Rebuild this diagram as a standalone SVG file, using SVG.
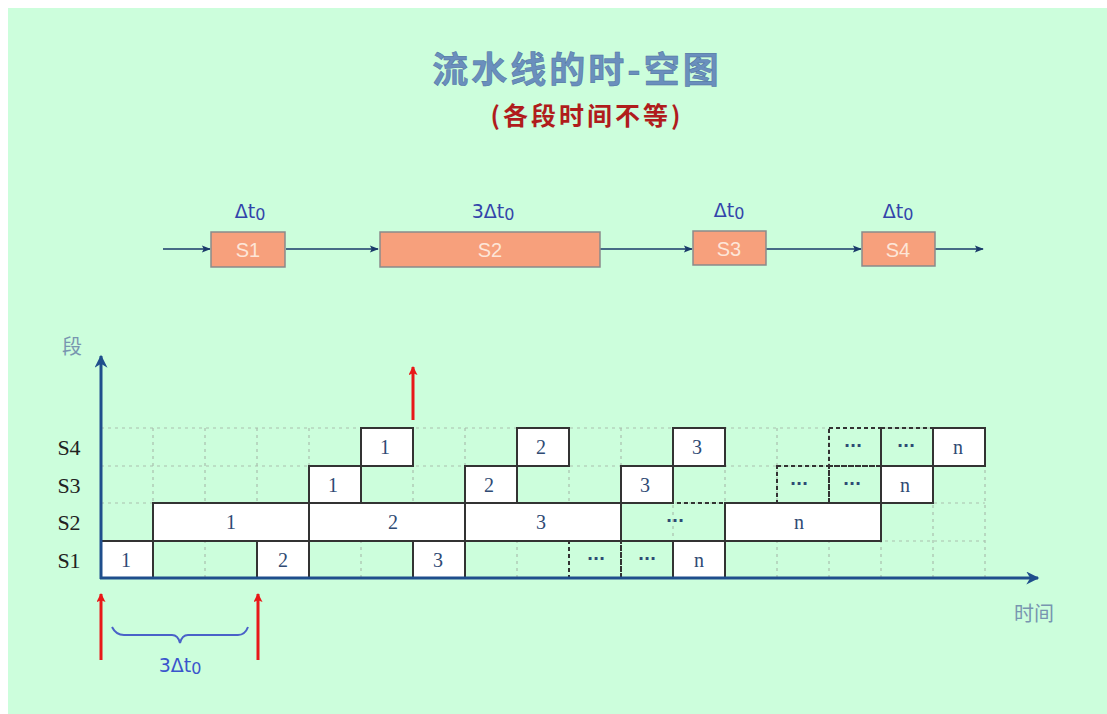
<svg xmlns="http://www.w3.org/2000/svg" width="1107" height="714" viewBox="0 0 1107 714">
<defs>
<marker id="nav" viewBox="0 0 10 10" refX="9" refY="5" markerWidth="13" markerHeight="9" markerUnits="userSpaceOnUse" orient="auto"><path d="M0,1 L10,5 L0,9 L2,5 z" fill="#1a3a6a"/></marker>
<marker id="axh" viewBox="0 0 10 10" refX="9" refY="5" markerWidth="22" markerHeight="13" markerUnits="userSpaceOnUse" orient="auto"><path d="M0,0 L10,5 L0,10 L3,5 z" fill="#1f4e8c"/></marker>
<marker id="red" viewBox="0 0 10 10" refX="9" refY="5" markerWidth="14" markerHeight="9" markerUnits="userSpaceOnUse" orient="auto"><path d="M0,0 L10,5 L0,10 L2,5 z" fill="#e81818"/></marker>
<style>
.stg{fill:#f7a07c;stroke:#8a8a8a;stroke-width:1.5}
.stt{font-family:"Liberation Sans",Arial,sans-serif;font-size:20px;fill:#fde6d8;text-anchor:middle}
.dt{font-family:"DejaVu Sans","Liberation Sans",sans-serif;font-size:19px;fill:#3344aa;text-anchor:middle}
.pl{stroke:#1a3a6a;stroke-width:1.6;fill:none}
.grid{stroke:#a9bfae;stroke-width:1.2;stroke-dasharray:3,4;fill:none}
.box{fill:#ffffff;stroke:#333;stroke-width:2}
.dbox{fill:none;stroke:#333;stroke-width:2;stroke-dasharray:4,3}
.num{font-family:"Liberation Serif","Times New Roman",serif;font-size:20px;fill:#2f4a74;text-anchor:middle}
.dots{font-family:"DejaVu Sans",sans-serif;font-size:16px;font-weight:bold;fill:#2f4a74;text-anchor:middle}
.rl{font-family:"Liberation Serif","Times New Roman",serif;font-size:22px;fill:#222;text-anchor:middle}
.ax{font-family:"Noto Sans CJK SC",sans-serif;font-size:20px;fill:#7895b0}
.ra{stroke:#e81818;stroke-width:3;fill:none}
</style>
</defs>
<rect x="8" y="8" width="1099" height="706" fill="#ccfedc"/>

<g id="title">
<text x="577" y="83" font-family="'Noto Sans CJK SC',sans-serif" font-size="36" font-weight="bold" fill="#6a8fbd" text-anchor="middle" letter-spacing="3" stroke="#4a6f9e" stroke-width="0.5">流水线的时-空图</text>
<text x="587" y="125" font-family="'Noto Sans CJK SC',sans-serif" font-size="25" font-weight="bold" fill="#b01c1c" text-anchor="middle" letter-spacing="3">(各段时间不等)</text>
</g>

<g id="pipeline-connectors">
<line class="pl" x1="163" y1="249" x2="210" y2="249" marker-end="url(#nav)"/>
<line class="pl" x1="286" y1="249" x2="378" y2="249" marker-end="url(#nav)"/>
<line class="pl" x1="600" y1="249" x2="692" y2="249" marker-end="url(#nav)"/>
<line class="pl" x1="766" y1="249" x2="861" y2="249" marker-end="url(#nav)"/>
<line class="pl" x1="935" y1="249" x2="983" y2="249" marker-end="url(#nav)"/>
</g>

<g id="stage-S1"><rect class="stg" x="211" y="232" width="74" height="35"/><text class="stt" x="248" y="257">S1</text><text class="dt" x="250" y="218">Δt<tspan font-size="16" dy="2">0</tspan></text></g>
<g id="stage-S2"><rect class="stg" x="380" y="232" width="220" height="35"/><text class="stt" x="490" y="257">S2</text><text class="dt" x="493" y="218">3Δt<tspan font-size="16" dy="2">0</tspan></text></g>
<g id="stage-S3"><rect class="stg" x="693" y="231" width="73" height="34"/><text class="stt" x="729" y="256">S3</text><text class="dt" x="729" y="217">Δt<tspan font-size="16" dy="2">0</tspan></text></g>
<g id="stage-S4"><rect class="stg" x="862" y="232" width="73" height="34"/><text class="stt" x="898" y="257">S4</text><text class="dt" x="898" y="218">Δt<tspan font-size="16" dy="2">0</tspan></text></g>

<g id="grid">
<path class="grid" d="M101,428 H985 M101,466 H985 M101,503 H985 M101,541 H985"/>
<path class="grid" d="M153,428 V578 M205,428 V578 M257,428 V578 M309,428 V578 M361,428 V578 M413,428 V578 M465,428 V578 M517,428 V578 M569,428 V578 M621,428 V578 M673,428 V578 M725,428 V578 M777,428 V578 M829,428 V578 M881,428 V578 M933,428 V578 M985,428 V578"/>
</g>

<g id="row-S2">
<rect class="box" x="153" y="503" width="156" height="38"/><text class="num" x="231" y="529">1</text>
<rect class="box" x="309" y="503" width="156" height="38"/><text class="num" x="393" y="529">2</text>
<rect class="box" x="465" y="503" width="156" height="38"/><text class="num" x="541" y="529">3</text>
<rect class="dbox" x="621" y="503" width="104" height="38"/><text class="dots" x="675" y="526">···</text>
<rect class="box" x="725" y="503" width="156" height="38"/><text class="num" x="799" y="529">n</text>
</g>
<g id="row-S1">
<rect class="box" x="101" y="541" width="52" height="37"/><text class="num" x="126" y="567">1</text>
<rect class="box" x="257" y="541" width="52" height="37"/><text class="num" x="283" y="567">2</text>
<rect class="box" x="413" y="541" width="52" height="37"/><text class="num" x="438" y="567">3</text>
<rect class="dbox" x="569" y="541" width="52" height="37"/><text class="dots" x="596" y="564">···</text>
<rect class="dbox" x="621" y="541" width="52" height="37"/><text class="dots" x="647" y="564">···</text>
<rect class="box" x="673" y="541" width="52" height="37"/><text class="num" x="699" y="567">n</text>
</g>
<g id="row-S3">
<rect class="box" x="309" y="466" width="52" height="37"/><text class="num" x="333" y="492">1</text>
<rect class="box" x="465" y="466" width="52" height="37"/><text class="num" x="489" y="492">2</text>
<rect class="box" x="621" y="466" width="52" height="37"/><text class="num" x="645" y="492">3</text>
<rect class="dbox" x="777" y="466" width="52" height="37"/><text class="dots" x="799" y="489">···</text>
<rect class="dbox" x="829" y="466" width="52" height="37"/><text class="dots" x="852" y="489">···</text>
<rect class="box" x="881" y="466" width="52" height="37"/><text class="num" x="905" y="492">n</text>
</g>
<g id="row-S4">
<rect class="box" x="361" y="428" width="52" height="38"/><text class="num" x="385" y="454">1</text>
<rect class="box" x="517" y="428" width="52" height="38"/><text class="num" x="541" y="454">2</text>
<rect class="box" x="673" y="428" width="52" height="38"/><text class="num" x="697" y="454">3</text>
<rect class="dbox" x="829" y="428" width="52" height="38"/><text class="dots" x="853" y="451">···</text>
<rect class="dbox" x="881" y="428" width="52" height="38"/><text class="dots" x="906" y="451">···</text>
<rect class="box" x="933" y="428" width="52" height="38"/><text class="num" x="958" y="454">n</text>
</g>

<g id="row-labels">
<text class="rl" x="69" y="455">S4</text>
<text class="rl" x="69" y="493">S3</text>
<text class="rl" x="69" y="530">S2</text>
<text class="rl" x="69" y="568">S1</text>
</g>

<g id="axes">
<line x1="101" y1="579" x2="101" y2="356" stroke="#1f4e8c" stroke-width="3" marker-end="url(#axh)"/>
<line x1="100" y1="578" x2="1038" y2="578" stroke="#1f4e8c" stroke-width="3" marker-end="url(#axh)"/>
<text class="ax" x="62" y="354">段</text>
<text class="ax" x="1014" y="621">时间</text>
</g>

<g id="markers">
<line class="ra" x1="413" y1="420" x2="413" y2="367" marker-end="url(#red)"/>
<line class="ra" x1="101" y1="660" x2="101" y2="594" marker-end="url(#red)"/>
<line class="ra" x1="258" y1="660" x2="258" y2="594" marker-end="url(#red)"/>
<path d="M112,627 Q116,635 124,635 H172 Q178,635 180,643 Q182,635 188,635 H238 Q245,635 248,627" fill="none" stroke="#4a62c8" stroke-width="2"/>
<text x="180" y="672" font-family="'DejaVu Sans','Liberation Sans',sans-serif" font-size="19" fill="#3a55cc" text-anchor="middle">3Δt<tspan font-size="16" dy="2">0</tspan></text>
</g>
</svg>
